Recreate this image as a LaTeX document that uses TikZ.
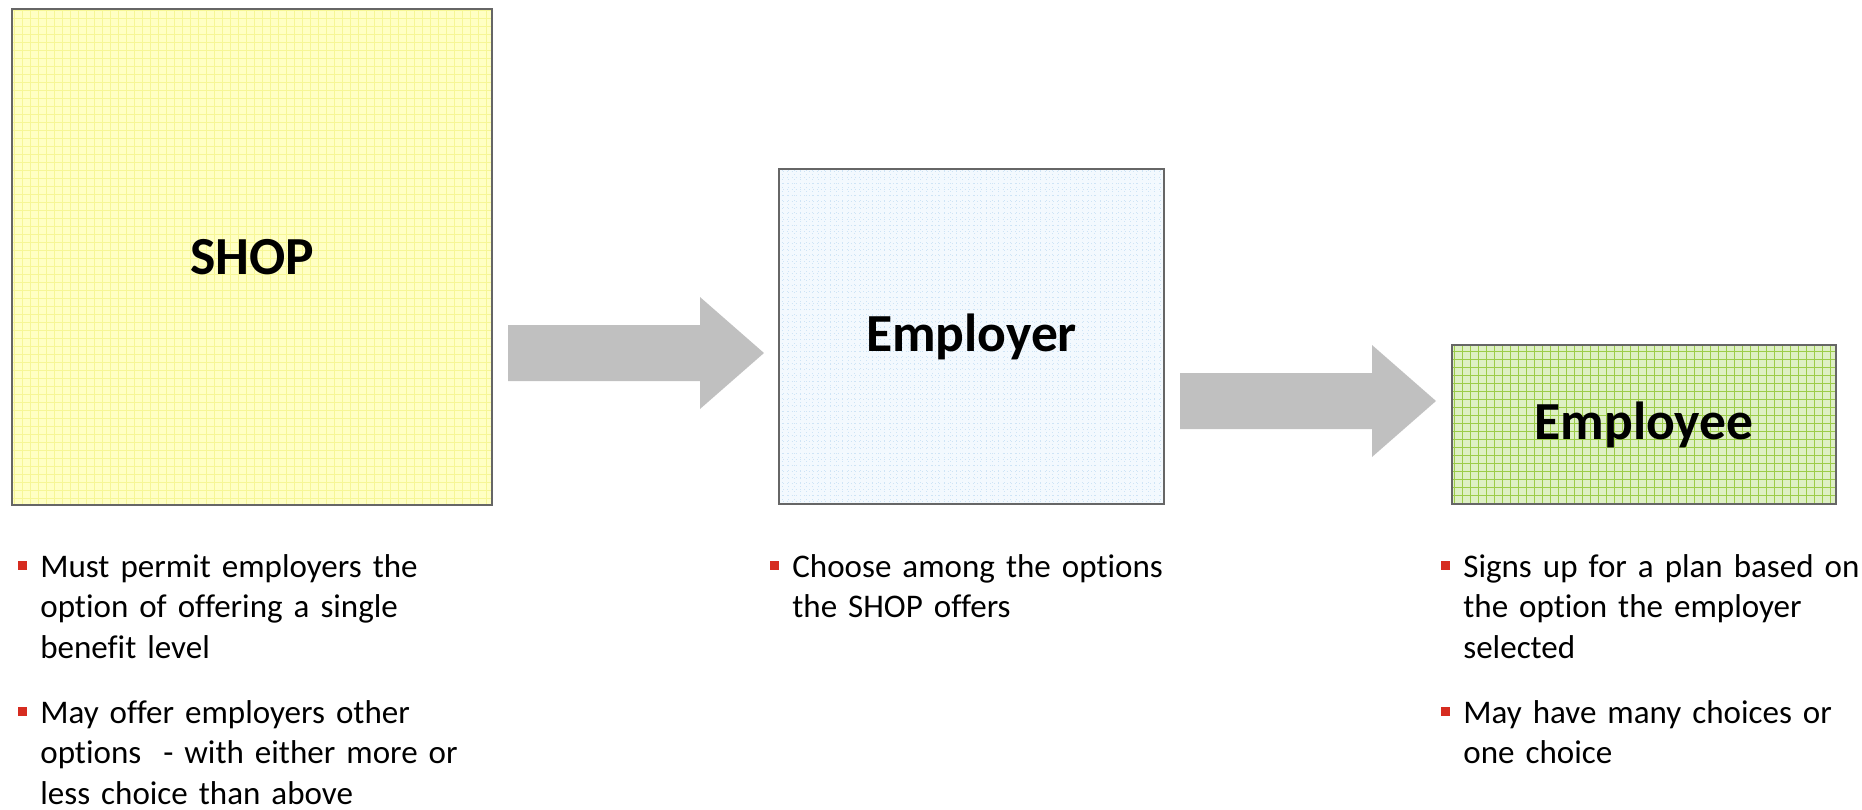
\documentclass[tikz,border=0pt]{standalone}
\usepackage{fontspec}
\setmainfont{Carlito}[Ligatures=NoCommon]
\definecolor{shopyellow}{RGB}{255,255,196}
\definecolor{shopgrid}{RGB}{246,246,150}
\definecolor{employerblue}{RGB}{243,249,254}
\definecolor{employerdot}{RGB}{206,228,246}
\definecolor{employeegreen}{RGB}{222,240,196}
\definecolor{employeegrid}{RGB}{156,204,72}
\definecolor{boxgray}{RGB}{102,102,102}
\definecolor{arrowgray}{RGB}{192,192,192}
\definecolor{bulletred}{RGB}{214,44,32}
\usetikzlibrary{calc}

\tikzset{
  box/.style={draw=boxgray, line width=1.15pt, inner sep=0pt, font=\fontsize{30.5}{36}\selectfont\bfseries},
  bullettext/.style={anchor=north west, inner sep=0pt, text width=10cm, align=left, font=\fontsize{18.8}{23}\selectfont},
  bulletsq/.style={fill=bulletred, minimum size=0.18cm, inner sep=0pt},
  bigarrow/.style={fill=arrowgray},
}

\begin{document}
\begin{tikzpicture}[x=0.02cm, y=-0.02cm]
  \useasboundingbox (0,0) rectangle (1862,809);

  % Boxes
  \node[box, fill=shopyellow, minimum width=9.6cm, minimum height=9.92cm,
    path picture={\draw[shopgrid, line width=0.3pt, step=0.16cm] (path picture bounding box.south west) grid (path picture bounding box.north east);}]
    (shop) at (252, 257) {SHOP};
  \node[box, fill=employerblue, minimum width=7.7cm, minimum height=6.7cm,
    path picture={\draw[employerdot, line width=0.4pt, dotted, step=0.12cm] (path picture bounding box.south west) grid (path picture bounding box.north east);}]
    (employer) at (971.5, 336.5) {Employer};
  \node[box, fill=employeegreen, minimum width=7.68cm, minimum height=3.18cm,
    path picture={\draw[employeegrid, line width=0.5pt, step=0.16cm] (path picture bounding box.south west) grid (path picture bounding box.north east);}]
    (employee) at (1644, 424.5) {Employee};

  % Block arrows
  \coordinate (shoptail) at (508, 353);
  \coordinate (shoptip) at (764, 353);
  \coordinate (employertail) at (1180, 401);
  \coordinate (employertip) at (1436, 401);
  \foreach \s/\t in {shoptail/shoptip, employertail/employertip}
    \fill[bigarrow] ($(\s)+(0,-28)$) -- ($(\t)+(-64,-28)$) -- ($(\t)+(-64,-56)$) -- (\t)
      -- ($(\t)+(-64,56)$) -- ($(\t)+(-64,28)$) -- ($(\s)+(0,28)$) -- cycle;

  % Bullet texts
  \node[bullettext] (shopa) at (40, 548.7) {\strut Must permit employers the\\option of offering a single\\benefit level};
  \node[bullettext] (shopb) at (40, 694.7) {\strut May offer employers other\\options \ - with either more or\\less choice than above};
  \node[bullettext] (employera) at (792, 548.7) {\strut Choose among the options\\the SHOP offers};
  \node[bullettext] (employeea) at (1463, 548.7) {\strut Signs up for a plan based on\\the option the employer\\selected};
  \node[bullettext] (employeeb) at (1463, 694.7) {\strut May have many choices or\\one choice};

  \foreach \n in {shopa, shopb, employera, employeea, employeeb}
    \node[bulletsq] (\n bul) at ($(\n.north west)+(-17.5,16.3)$) {};
\end{tikzpicture}
\end{document}
